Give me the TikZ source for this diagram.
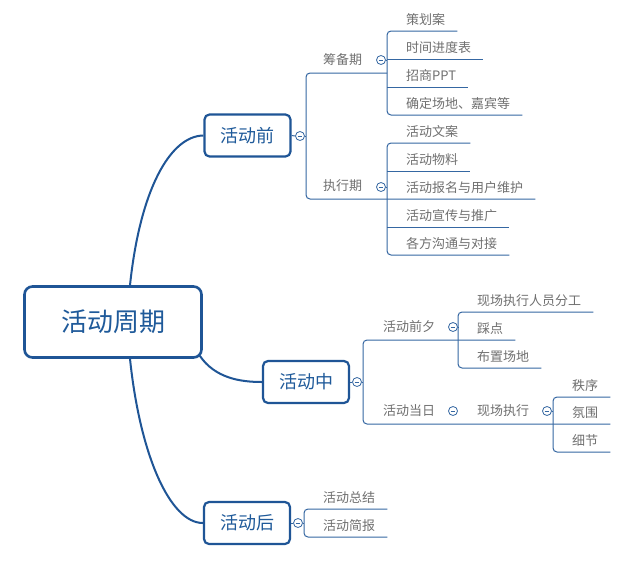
\documentclass[tikz,border=0pt]{standalone}
\usepackage{fontspec}
\setmainfont{Noto Sans CJK SC}
\definecolor{lc}{HTML}{3567A2}
\definecolor{bc}{HTML}{1F5596}
\definecolor{tc}{HTML}{707070}
\definecolor{hc}{HTML}{1F5A9A}
\begin{document}
\begin{tikzpicture}[x=1pt,y=-1pt,
  ln/.style={draw=lc, line width=1pt, rounded corners=4pt},
  cn/.style={draw=bc, line width=2pt},
  leaf/.style={anchor=south west, inner sep=0pt, text depth=6pt, text=tc, font=\fontsize{13pt}{13pt}\selectfont},
  mid/.style={leaf, text depth=8pt},
  box/.style={draw=bc, line width=2.2pt, rounded corners=5pt, fill=white, text=hc, inner sep=0pt, font=\fontsize{18pt}{18pt}\selectfont, minimum width=86pt, minimum height=42pt},
  root/.style={box, minimum width=177pt, minimum height=71pt, font=\fontsize{26pt}{26pt}\selectfont, rounded corners=8pt, line width=2.6pt},
  tog/.style={circle, draw=lc, fill=white, line width=0.8pt, minimum size=9pt, inner sep=0pt}
]
\useasboundingbox[fill=white] (0,0) rectangle (626,573);

% boxes
\node[root] (root) at (113,322) {活动周期};
\node[box] (qian) at (247.5,135.5) {活动前};
\node[box] (zhong) at (306,382) {活动中};
\node[box] (hou) at (247,523) {活动后};

% main connectors
\draw[cn] ([xshift=17pt]root.north) .. controls (140,190) and (170,136) .. (qian.west);
\draw[cn] ([shift={(-3pt,3pt)}]root.south east) .. controls (215,378) and (240,382) .. (zhong.west);
\draw[cn] ([xshift=17pt]root.south) .. controls (140,455) and (170,523) .. (hou.west);

% ---------- 活动前 ----------
\node[mid] (g1n) at (323,73) {筹备期};
\node[mid] (g2n) at (323,199) {执行期};
\node[leaf] (l1) at (406,31) {策划案};
\node[leaf] (l2) at (406,59) {时间进度表};
\node[leaf] (l3) at (406,87) {招商PPT};
\node[leaf] (l4) at (406,115) {确定场地、嘉宾等};
\node[leaf] (m1) at (406,143) {活动文案};
\node[leaf] (m2) at (406,171) {活动物料};
\node[leaf] (m3) at (406,199) {活动报名与用户维护};
\node[leaf] (m4) at (406,227) {活动宣传与推广};
\node[leaf] (m5) at (406,255) {各方沟通与对接};

\coordinate (A1) at (306,73);
\coordinate (A2) at (306,199);
\coordinate (B1) at (387,31);
\coordinate (B4) at (387,115);
\coordinate (C1) at (387,143);
\coordinate (C5) at (387,255);

\draw[ln] (B1 |- A1) -- (A1) -- (A2) -- ([xshift=12pt]m3.south east);
\draw[ln] ([xshift=12pt]l1.south east) -- (B1) -- (B4) -- ([xshift=12pt]l4.south east);
\draw[ln] (B1 |- l2.south) -- ([xshift=12pt]l2.south east);
\draw[ln] (B1 |- l3.south) -- ([xshift=12pt]l3.south east);
\draw[ln] ([xshift=12pt]m1.south east) -- (C1) -- (C5) -- ([xshift=12pt]m5.south east);
\draw[ln] (C1 |- m2.south) -- ([xshift=12pt]m2.south east);
\draw[ln] (C1 |- m4.south) -- ([xshift=12pt]m4.south east);

\node[tog] (t0) at (300,136) {};
\draw[ln] (qian.east) -- (t0.west);
\draw[ln] (t0.east) -- (A1 |- t0);
\node[tog] (g1) at (381,60) {};
\draw[ln] (g1.east) -- (B1 |- g1);
\node[tog] (g2) at (381,187) {};
\draw[ln] (g2.east) -- (C1 |- g2);

% ---------- 活动中 ----------
\node[mid] (h1n) at (383,340) {活动前夕};
\node[mid] (h2n) at (383,424) {活动当日};
\node[mid] (h3n) at (477,424) {现场执行};
\node[leaf] (p1) at (477,312) {现场执行人员分工};
\node[leaf] (p2) at (477,340) {踩点};
\node[leaf] (p3) at (477,368) {布置场地};
\node[leaf] (q1) at (572,397) {秩序};
\node[leaf] (q2) at (572,424) {氛围};
\node[leaf] (q3) at (572,452) {细节};

\coordinate (D1) at (363,340);
\coordinate (D2) at (363,424);
\coordinate (E1) at (458,312);
\coordinate (E3) at (458,368);
\coordinate (F1) at (553,397);
\coordinate (F3) at (553,452);

\draw[ln] ([xshift=12pt]p2.south east) -- (D1) -- (D2) -- ([xshift=12pt]q2.south east);
\draw[ln] ([xshift=12pt]p1.south east) -- (E1) -- (E3) -- ([xshift=12pt]p3.south east);
\draw[ln] ([xshift=12pt]q1.south east) -- (F1) -- (F3) -- ([xshift=12pt]q3.south east);

\node[tog] (t1) at (357,382) {};
\draw[ln] (zhong.east) -- (t1.west);
\draw[ln] (t1.east) -- (D1 |- t1);
\node[tog] (g3) at (453,327) {};
\draw[ln] (g3.east) -- (E1 |- g3);
\node[tog] (g4) at (453,411) {};
\node[tog] (g5) at (547,411) {};
\draw[ln] (g5.east) -- (F1 |- g5);

% ---------- 活动后 ----------
\node[leaf] (r1) at (323,509) {活动总结};
\node[leaf] (r2) at (323,537) {活动简报};
\coordinate (G1) at (304,509);
\coordinate (G2) at (304,537);
\draw[ln] ([xshift=12pt]r1.south east) -- (G1) -- (G2) -- ([xshift=12pt]r2.south east);
\node[tog] (t2) at (298,523) {};
\draw[ln] (hou.east) -- (t2.west);
\draw[ln] (t2.east) -- (G1 |- t2);

% minus signs
\foreach \t in {t0,t1,t2,g1,g2,g3,g4,g5}
  \draw[draw=lc, line width=0.7pt] ([xshift=-2.3pt]\t.center) -- ([xshift=2.3pt]\t.center);
\end{tikzpicture}
\end{document}
